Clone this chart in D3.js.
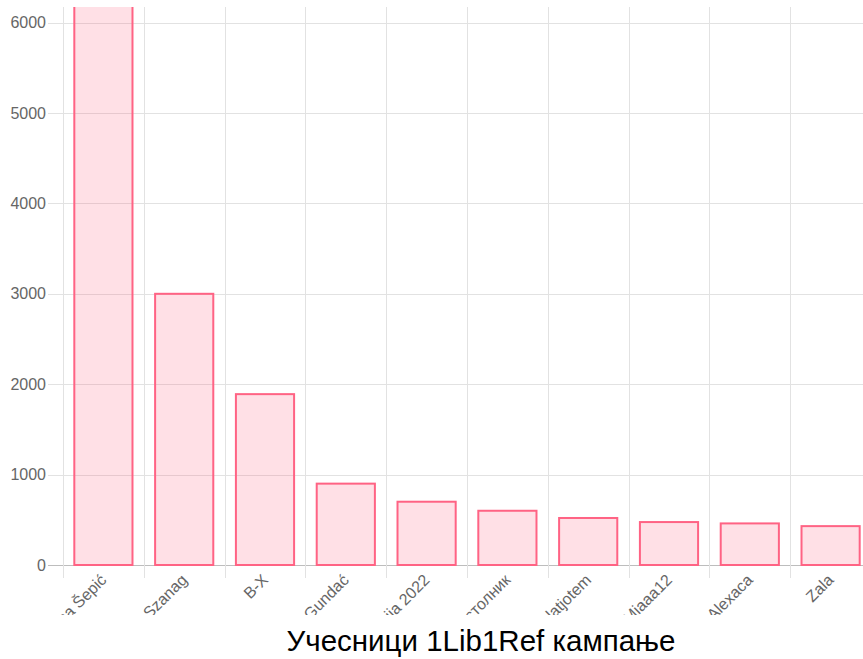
<!doctype html>
<html lang="sr">
<head>
  <meta charset="utf-8">
  <title>Учесници 1Lib1Ref кампање</title>
  <style>
    body { margin: 0; background: #fff; }
    svg { display: block; font-family: "Liberation Sans", Arial, sans-serif; }
    .grid line { stroke: #e2e2e2; stroke-width: 1; }
    .bar { fill: rgba(255, 99, 132, 0.2); stroke: rgb(255, 99, 132); stroke-width: 2; }
    .tick-label { fill: #666; font-size: 16px; }
  </style>
</head>
<body>
<script src="https://cdn.jsdelivr.net/npm/d3@7"></script>
<script>
(function() {

// data
var names = ["Mirjana Šepić", "Szanag", "B-X", "Ivan Gundać", "Srbija 2022",
             "Престолник", "Nikolatjotem", "Miaaa12", "Alexaca", "Zala"];
var counts = [6800, 3000, 1890, 900, 700, 600, 520, 475, 460, 430];
var yTicks = [0, 1000, 2000, 3000, 4000, 5000, 6000];
var title = "Учесници 1Lib1Ref кампање";

var W = 863, H = 659;
var left = 63, top = 7, bottom = 565;

var svg = d3.select("body").append("svg")
    .attr("width", W)
    .attr("height", H);

var x = d3.scaleBand().domain(names).range([left, left + 808]);
var y = d3.scaleLinear().domain([0, 6000]).range([bottom, 22.6]);

var defs = svg.append("defs");
defs.append("clipPath").attr("id", "plot")
  .append("rect").attr("x", 0).attr("y", top).attr("width", W).attr("height", bottom - top + 20);
defs.append("clipPath").attr("id", "labels")
  .append("rect").attr("x", 0).attr("y", bottom).attr("width", W).attr("height", 615 - bottom);

// horizontal grid
var hg = svg.append("g").attr("class", "grid");
hg.selectAll("line").data(yTicks).enter().append("line")
    .attr("x1", left - 15).attr("x2", W)
    .attr("y1", function(d) { return Math.round(y(d)) + 0.5; })
    .attr("y2", function(d) { return Math.round(y(d)) + 0.5; })
    .style("stroke", function(d) { return d === 0 ? "#bdbdbd" : null; });

// vertical grid at category boundaries
var bounds = names.map(function(n) { return x(n); });
var vg = svg.append("g").attr("class", "grid");
vg.selectAll("line").data(bounds).enter().append("line")
    .attr("x1", function(d) { return Math.round(d) + 0.5; })
    .attr("x2", function(d) { return Math.round(d) + 0.5; })
    .attr("y1", top).attr("y2", bottom + 13);

// y labels
svg.append("g").selectAll("text").data(yTicks).enter().append("text")
    .attr("class", "tick-label")
    .attr("x", left - 17)
    .attr("y", function(d) { return y(d); })
    .attr("dy", "0.35em")
    .attr("text-anchor", "end")
    .text(function(d) { return d; });

// bars
var bw = x.bandwidth() * 0.72;
svg.append("g").attr("clip-path", "url(#plot)")
  .selectAll("rect").data(counts).enter().append("rect")
    .attr("class", "bar")
    .attr("x", function(d, i) { return x(names[i]) + (x.bandwidth() - bw) / 2; })
    .attr("y", function(d) { return y(d); })
    .attr("width", bw)
    .attr("height", function(d) { return bottom - y(d); });

// x labels, rotated and clipped
svg.append("g").attr("clip-path", "url(#labels)")
  .selectAll("text").data(names).enter().append("text")
    .attr("class", "tick-label")
    .attr("text-anchor", "end")
    .attr("transform", function(d) {
      return "translate(" + (x(d) + x.bandwidth() / 2 + 4) + "," + (bottom + 16) + ") rotate(-45)";
    })
    .text(function(d) { return d; });

// title
svg.append("text")
    .attr("x", 481)
    .attr("y", 651)
    .attr("text-anchor", "middle")
    .style("font-size", "29.5px")
    .style("fill", "#000")
    .text(title);

})();
</script>
</body>
</html>
